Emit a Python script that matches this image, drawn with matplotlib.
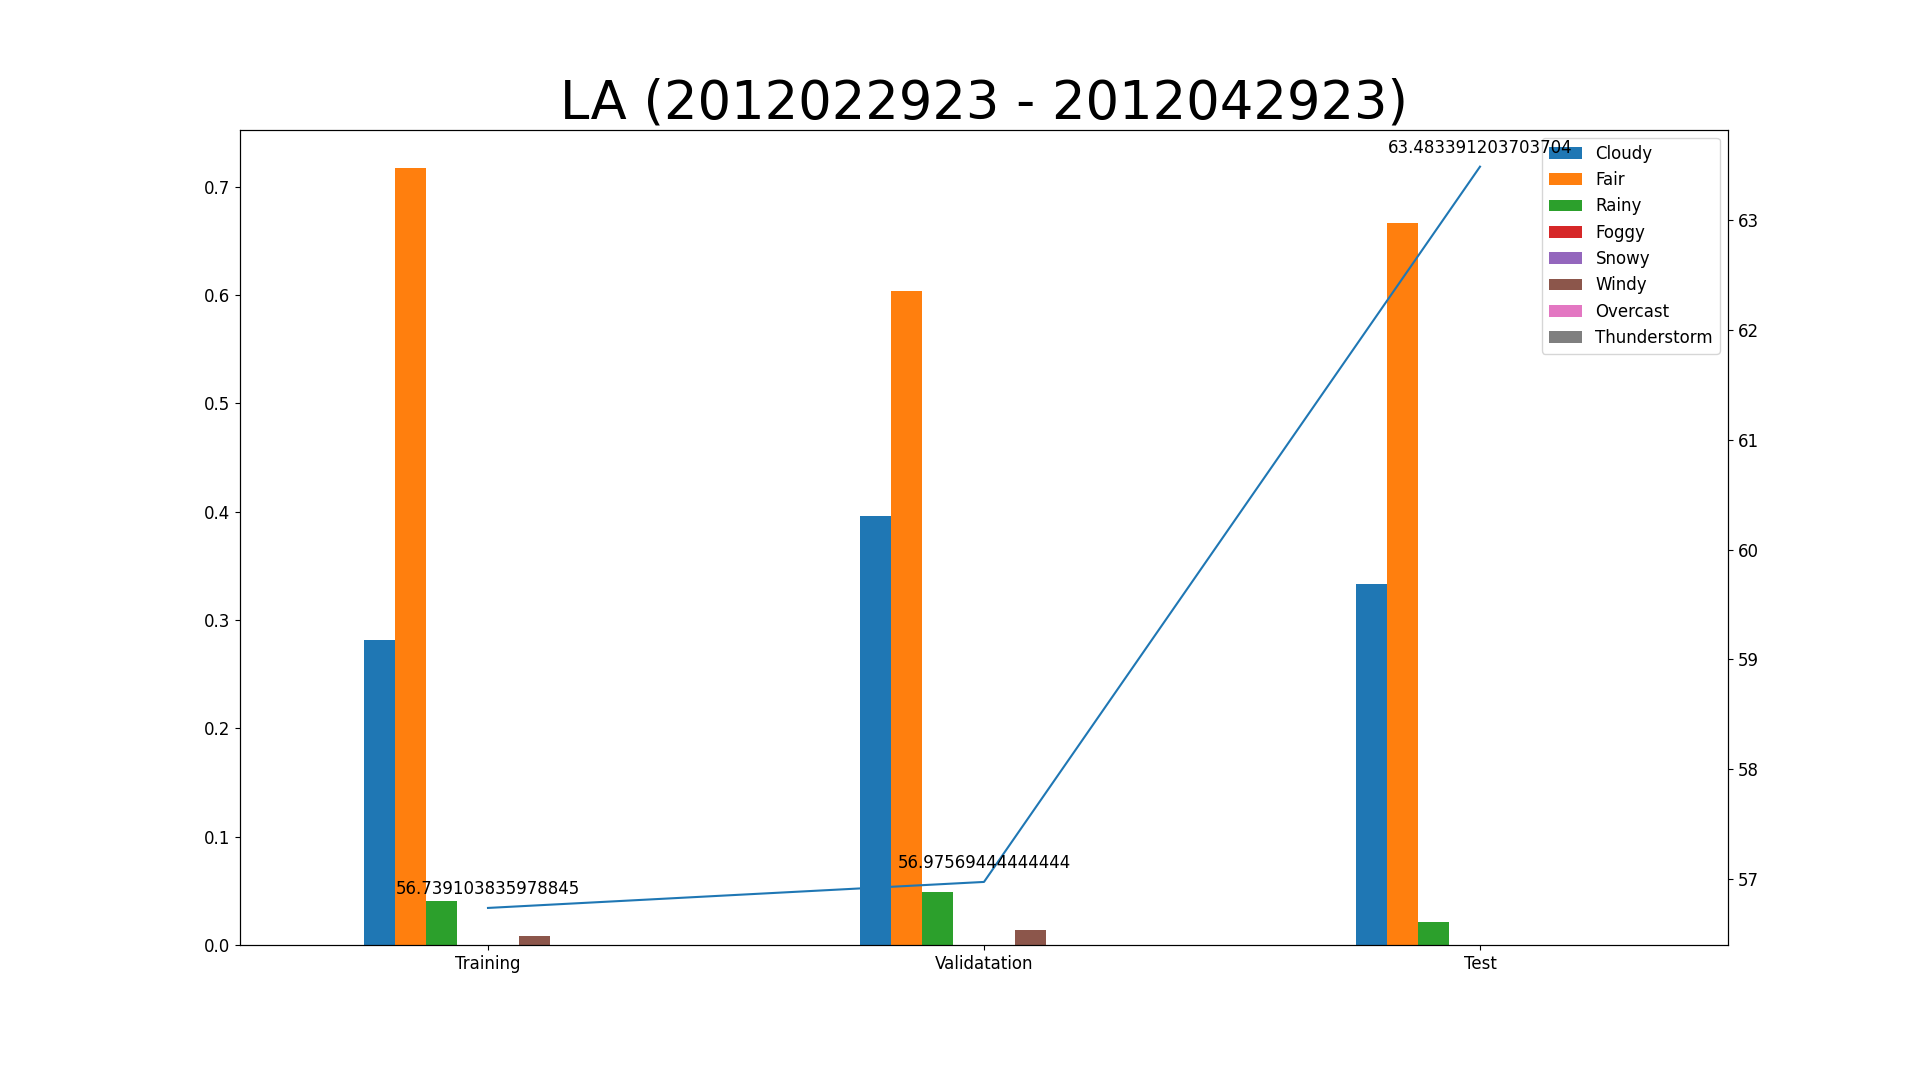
import numpy as np
import matplotlib.pyplot as plt

plt.rcParams['font.size'] = 12

splits = ['Training', 'Validatation', 'Test']
weather = ['Cloudy', 'Fair', 'Rainy', 'Foggy', 'Snowy', 'Windy', 'Overcast', 'Thunderstorm']
ratios = {
    'Cloudy':       [0.282, 0.396, 0.333],
    'Fair':         [0.717, 0.604, 0.667],
    'Rainy':        [0.041, 0.049, 0.021],
    'Foggy':        [0.0, 0.0, 0.0],
    'Snowy':        [0.0, 0.0, 0.0],
    'Windy':        [0.008, 0.014, 0.0],
    'Overcast':     [0.0, 0.0, 0.0],
    'Thunderstorm': [0.0, 0.0, 0.0],
}
temps = [56.739103835978845, 56.97569444444444, 63.483391203703704]

fig, ax = plt.subplots(figsize=(19.2, 10.8), dpi=100)
fig.subplots_adjust(left=0.125, right=0.9, bottom=0.125, top=0.88)
x = np.arange(len(splits))
w = 0.5 / len(weather)
for i, name in enumerate(weather):
    ax.bar(x - 0.25 + i * w, ratios[name], w, align='edge', label=name)
ax.set_xticks(x)
ax.set_xticklabels(splits)
ax.set_xlim(-0.5, 2.5)
ax.legend(loc='upper right')
ax.set_title('LA (2012022923 - 2012042923)', fontsize=38)

ax2 = ax.twinx()
ax2.plot(x, temps)
for xi, t in zip(x, temps):
    ax2.annotate(str(t), (xi, t), xytext=(0, 10), textcoords='offset points', ha='center')

plt.savefig('out.png')
